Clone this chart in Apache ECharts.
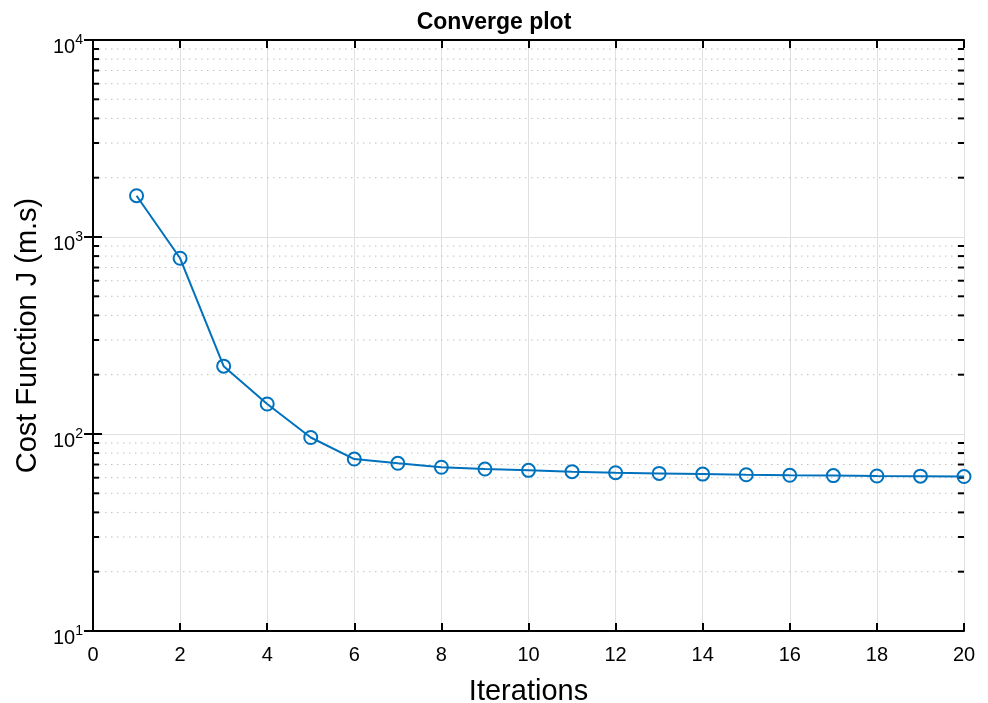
<!DOCTYPE html>
<html>
<head>
<meta charset="utf-8">
<script src="https://cdn.jsdelivr.net/npm/echarts@6/dist/echarts.min.js"></script>
<style>
html,body{margin:0;padding:0;background:#fff;}
#chart{width:988px;height:703px;}
</style>
</head>
<body>
<div id="chart"></div>
<script>
var iterations = [1,2,3,4,5,6,7,8,9,10,11,12,13,14,15,16,17,18,19,20];
var cost = [1620, 780, 221, 142, 96, 74.6, 71.0, 67.8, 66.4, 65.4, 64.4, 63.6, 63.1, 62.6, 62.1, 61.7, 61.5, 61.2, 61.1, 60.8];
var minorTicks = [20,30,40,50,60,70,80,90,200,300,400,500,600,700,800,900,2000,3000,4000,5000,6000,7000,8000,9000];
var titleText = 'Converge plot';
var xLabel = 'Iterations';
var yLabel = 'Cost Function J (m.s)';

var FONT = 'Liberation Sans, Arial, sans-serif';
var chart = echarts.init(document.getElementById('chart'));

var axisLineStyle = {color:'#000', width:2};

var option = {
  animation:false,
  backgroundColor:'#fff',
  title:{text:titleText, left:'center', top:6,
    textStyle:{fontFamily:FONT, fontWeight:'bold', fontSize:23, color:'#000'}},
  grid:{left:93, right:24, top:40, bottom:72, containLabel:false, outerBoundsMode:'none'},
  xAxis:[{
    type:'value', min:0, max:20, interval:2, position:'bottom',
    name:xLabel, nameLocation:'middle', nameGap:46,
    nameTextStyle:{fontFamily:FONT, fontSize:29, color:'#000'},
    axisLine:{show:true, lineStyle:axisLineStyle},
    axisTick:{show:true, inside:true, length:8, lineStyle:{color:'#000', width:2}},
    axisLabel:{fontFamily:FONT, fontSize:20, color:'#000', margin:14},
    splitLine:{show:true, lineStyle:{color:'#e0e0e0', width:1}}
  },{
    type:'value', min:0, max:20, interval:2, position:'top',
    axisLine:{show:true, lineStyle:axisLineStyle},
    axisTick:{show:true, inside:true, length:8, lineStyle:{color:'#000', width:2}},
    axisLabel:{show:false}, splitLine:{show:false}
  }],
  yAxis:[{
    type:'log', logBase:10, min:10, max:10000, position:'left',
    name:yLabel, nameLocation:'middle', nameGap:50,
    nameTextStyle:{fontFamily:FONT, fontSize:29, color:'#000'},
    axisLine:{show:true, lineStyle:axisLineStyle},
    axisTick:{show:true, inside:true, length:9, lineStyle:{color:'#000', width:2}},
    axisLabel:{margin:10, formatter:function(v){
        return '{b|10}{s|' + Math.round(Math.log(v)/Math.LN10) + '}';
      },
      rich:{
        b:{fontFamily:FONT, fontSize:20, color:'#000', verticalAlign:'bottom', lineHeight:34},
        s:{fontFamily:FONT, fontSize:14, color:'#000', verticalAlign:'middle'}
      }},
    splitLine:{show:true, lineStyle:{color:'#e0e0e0', width:1}}
  },{
    type:'log', logBase:10, min:10, max:10000, position:'right',
    axisLine:{show:true, lineStyle:axisLineStyle},
    axisTick:{show:true, inside:true, length:9, lineStyle:{color:'#000', width:2}},
    axisLabel:{show:false}, splitLine:{show:false}
  }],
  series:[{
    type:'custom',
    xAxisIndex:0, yAxisIndex:0,
    silent:true, z:1,
    data:minorTicks.map(function(v){return [0, v];}),
    renderItem:function(params, api){
      var cs = params.coordSys;
      var y = api.coord([0, api.value(1)])[1];
      return {type:'group', children:[
        {type:'line', shape:{x1:cs.x, y1:y, x2:cs.x+cs.width, y2:y},
          style:{stroke:'#c0c0c0', lineWidth:1, lineDash:[1.5,4.5]}},
        {type:'line', shape:{x1:cs.x, y1:y, x2:cs.x+6, y2:y},
          style:{stroke:'#000', lineWidth:2}},
        {type:'line', shape:{x1:cs.x+cs.width-6, y1:y, x2:cs.x+cs.width, y2:y},
          style:{stroke:'#000', lineWidth:2}}
      ]};
    }
  },{
    type:'line',
    xAxisIndex:0, yAxisIndex:0, z:5,
    data:iterations.map(function(x,i){return [x, cost[i]];}),
    symbol:'circle', symbolSize:13, showAllSymbol:true,
    clip:false,
    lineStyle:{color:'#0072BD', width:2},
    itemStyle:{color:'rgba(0,0,0,0)', borderColor:'#0072BD', borderWidth:2},
    emphasis:{disabled:true}
  }]
};
chart.setOption(option);
</script>
</body>
</html>
